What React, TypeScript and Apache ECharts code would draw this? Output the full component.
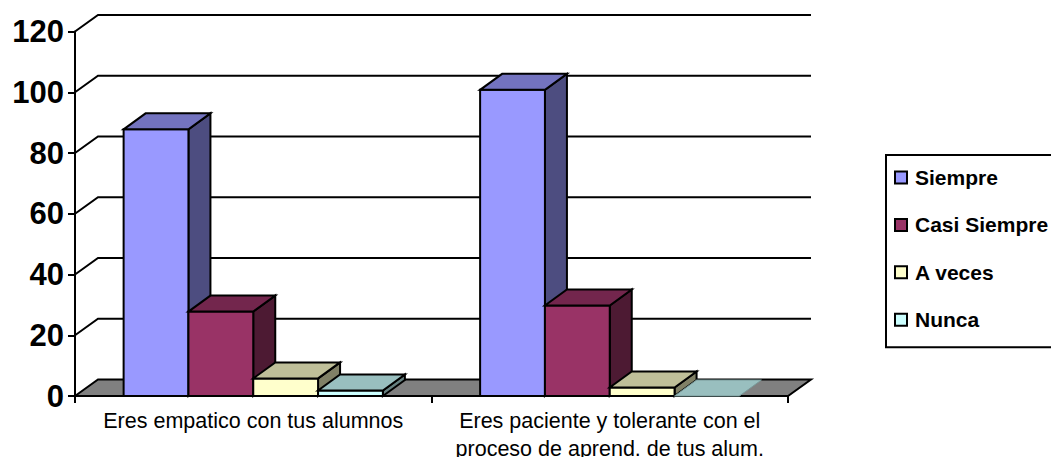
import React, { useEffect, useRef } from "react";
import * as echarts from "echarts";

const categories = [
  "Eres empatico con tus alumnos",
  "Eres paciente y tolerante con el\nproceso de aprend. de tus alum.",
];
const seriesNames = ["Siempre", "Casi Siempre", "A veces", "Nunca"];
const siempre = [87, 100];
const casiSiempre = [27, 29];
const aVeces = [5, 2];
const nunca = [1, 0];
const seriesValues = [siempre, casiSiempre, aVeces, nunca];
const yTicks = [0, 20, 40, 60, 80, 100, 120];

const frontColors = ["#9999FF", "#993366", "#FFFFCC", "#CCFFFF"];
const topColors = ["#7373BF", "#73264D", "#BFBF99", "#99BFBF"];
const sideColors = ["#4D4D80", "#4D1A33", "#808066", "#668080"];

const FLOOR_DX = 23;
const FLOOR_DY = 16.5;
const BAR_DX = 22;
const BAR_DY = 16;
const LIFT = 2.4;
const GAP_RATIO = 1.5;

function App() {
  const ref = useRef<HTMLDivElement>(null);
  useEffect(() => {
    const chart = echarts.init(ref.current!, undefined, { renderer: "svg" });
    const line = { stroke: "#000", lineWidth: 2, lineJoin: "miter" as const };

    const gridSeries = {
      type: "custom",
      name: "grid",
      silent: true,
      z: 1,
      data: yTicks.filter((v) => v > 0).map((v) => [0, v]),
      renderItem: (params: any, api: any) => {
        const cs = params.coordSys;
        const y = api.coord([0, api.value(1)])[1];
        return {
          type: "polyline",
          shape: {
            points: [
              [cs.x, y],
              [cs.x + FLOOR_DX, y - FLOOR_DY],
              [cs.x + cs.width + FLOOR_DX, y - FLOOR_DY],
            ],
          },
          style: { ...line, fill: "none" },
        };
      },
    };

    const floorSeries = {
      type: "custom",
      name: "floor",
      silent: true,
      z: 1,
      data: [[0, 0]],
      renderItem: (params: any, api: any) => {
        const cs = params.coordSys;
        const y = api.coord([0, 0])[1];
        return {
          type: "polygon",
          shape: {
            points: [
              [cs.x, y],
              [cs.x + FLOOR_DX, y - FLOOR_DY],
              [cs.x + cs.width + FLOOR_DX, y - FLOOR_DY],
              [cs.x + cs.width, y],
            ],
          },
          style: { ...line, fill: "#808080" },
        };
      },
    };

    const barSeries = seriesNames.map((name, si) => ({
      type: "custom",
      name,
      silent: true,
      z: 2 + si,
      itemStyle: { color: frontColors[si] },
      data: seriesValues[si].map((v, i) => [i, v]),
      renderItem: (_params: any, api: any) => {
        const cat = api.value(0);
        const val = api.value(1);
        const band = api.size([1, 0])[0];
        const w = band / (seriesNames.length + GAP_RATIO);
        const base = api.coord([cat, 0]);
        const x0 = base[0] - (w * seriesNames.length) / 2 + si * w;
        const x1 = x0 + w;
        const y0 = base[1];
        const y1 = val > 0 ? api.coord([cat, val])[1] - LIFT : y0;
        const st = val > 0 ? line : { stroke: "#7a9a9a", lineWidth: 1 };
        const children: any[] = [];
        if (val > 0) {
          children.push({
            type: "polygon",
            shape: {
              points: [
                [x1, y0],
                [x1 + BAR_DX, y0 - BAR_DY],
                [x1 + BAR_DX, y1 - BAR_DY],
                [x1, y1],
              ],
            },
            style: { ...st, fill: sideColors[si] },
          });
          children.push({
            type: "polygon",
            shape: { points: [[x0, y0], [x1, y0], [x1, y1], [x0, y1]] },
            style: { ...st, fill: frontColors[si] },
          });
        }
        children.push({
          type: "polygon",
          shape: {
            points: [
              [x0, y1],
              [x1, y1],
              [x1 + BAR_DX, y1 - BAR_DY],
              [x0 + BAR_DX, y1 - BAR_DY],
            ],
          },
          style: { ...st, fill: topColors[si] },
        });
        return { type: "group", children };
      },
    }));

    chart.setOption({
      animation: false,
      backgroundColor: "#fff",
      grid: {
        left: 75,
        top: 31.5,
        width: 713,
        height: 364.5,
        containLabel: false,
        outerBoundsMode: "none",
      },
      legend: {
        show: true,
        data: seriesNames,
        orient: "vertical",
        left: 886,
        top: 155,
        padding: [12, 40, 17, 8],
        itemWidth: 12,
        itemHeight: 12,
        itemGap: 26.4,
        icon: "rect",
        align: "left",
        backgroundColor: "#fff",
        borderColor: "#000",
        borderWidth: 2,
        borderRadius: 0,
        selectedMode: false,
        itemStyle: { borderColor: "#000", borderWidth: 2 },
        textStyle: {
          fontFamily: "Liberation Sans",
          fontWeight: "bold",
          fontSize: 21,
          color: "#000",
          padding: [0, 0, 0, 3],
        },
      },
      xAxis: {
        type: "category",
        data: categories,
        boundaryGap: true,
        axisLine: { onZero: false, lineStyle: { color: "#000", width: 2 } },
        axisTick: { show: true, alignWithLabel: false, length: 7, lineStyle: { color: "#000", width: 2 } },
        axisLabel: {
          interval: 0,
          margin: 11,
          fontFamily: "Liberation Sans",
          fontSize: 21.5,
          lineHeight: 28,
          color: "#000",
        },
        splitLine: { show: false },
      },
      yAxis: {
        type: "value",
        min: 0,
        max: 120,
        interval: 20,
        axisLine: { show: true, lineStyle: { color: "#000", width: 2 } },
        axisTick: { show: true, length: 7, lineStyle: { color: "#000", width: 2 } },
        axisLabel: {
          margin: 11,
          fontFamily: "Liberation Sans",
          fontWeight: "bold",
          fontSize: 31,
          color: "#000",
        },
        splitLine: { show: false },
      },
      series: [gridSeries, floorSeries, ...barSeries],
    });
    return () => chart.dispose();
  }, []);
  return (
    <div
      ref={ref}
      style={{ position: "fixed", left: 0, top: 0, width: 1051, height: 457 }}
    />
  );
}

export default App;
